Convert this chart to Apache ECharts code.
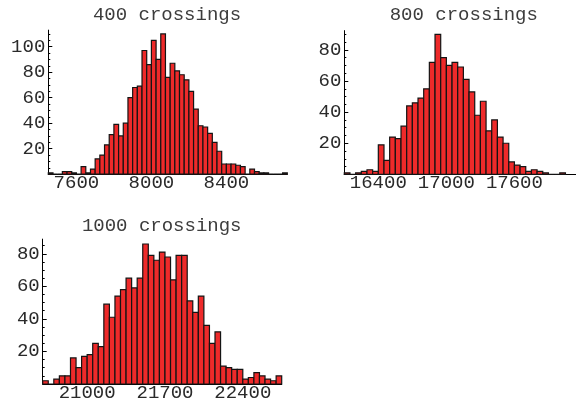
<!DOCTYPE html>
<html>
<head>
<meta charset="utf-8">
<script src="https://cdn.jsdelivr.net/npm/echarts@6/dist/echarts.min.js"></script>
<style>
  html, body { margin: 0; padding: 0; background: #ffffff; }
  #chart { width: 576px; height: 403px; }
</style>
</head>
<body>
<div id="chart"></div>
<script>
// Histogram counts, one value per bin
const counts400 = [1, 0, 0, 2, 2, 1, 0, 6, 1, 4, 12, 15, 23, 31, 39, 30, 40, 60, 68, 69,
  97, 86, 105, 90, 110, 76, 87, 81, 78, 74, 65, 51, 38, 37, 32, 25, 18, 8, 8, 8,
  7, 6, 0, 4, 2, 1, 1, 0, 0, 0, 1];
const counts800 = [1, 0, 1, 2, 3, 2, 19, 9, 24, 23, 31, 44, 46, 49, 55, 72, 90, 75, 70, 72,
  69, 61, 53, 38, 47, 28, 35, 24, 20, 8, 6, 5, 2, 3, 2, 1, 0, 0, 1];
const counts1000 = [2, 0, 3, 5, 5, 16, 10, 17, 18, 25, 23, 49, 41, 54, 58, 65, 59, 65, 86, 79,
  76, 81, 78, 64, 79, 79, 51, 44, 54, 36, 25, 32, 11, 10, 9, 9, 3, 4, 7, 5,
  3, 2, 5];

// Bin layout: first bin edge and bin width
const binStart400 = 7450, binWidth400 = 25;
const binStart800 = 16100, binWidth800 = 50;
const binStart1000 = 20600, binWidth1000 = 50;

// Tick labels
const xLabels400 = [7600, 8000, 8400];
const xLabels800 = [16400, 17000, 17600];
const xLabels1000 = [21000, 21700, 22400];
const yLabels400 = [20, 40, 60, 80, 100];
const yLabels800 = [20, 40, 60, 80];
const yLabels1000 = [20, 40, 60, 80];

const titles = ['400 crossings', '800 crossings', '1000 crossings'];

const FONT = "'Liberation Mono', 'DejaVu Sans Mono', monospace";
const TEXT_COLOR = '#2a2a2a';
const BAR_FILL = '#EE2A2A';
const BAR_EDGE = '#141414';

const panels = [
  { title: titles[0], counts: counts400, start: binStart400, width: binWidth400,
    xLabels: xLabels400, yLabels: yLabels400, xMax: 8725, yMax: 113,
    grid: { left: 48.3, top: 30.1, width: 239, height: 144.1 }, titleX: 167, titleY: 15 },
  { title: titles[1], counts: counts800, start: binStart800, width: binWidth800,
    xLabels: xLabels800, yLabels: yLabels800, xMax: 18143, yMax: 92.4,
    grid: { left: 344.3, top: 30.6, width: 239, height: 143.8 }, titleX: 463.8, titleY: 15 },
  { title: titles[2], counts: counts1000, start: binStart1000, width: binWidth1000,
    xLabels: xLabels1000, yLabels: yLabels1000, xMax: 22750, yMax: 89,
    grid: { left: 42.7, top: 239.1, width: 239, height: 144.9 }, titleX: 161.7, titleY: 226 }
];

const plain = v => String(v);

const grid = [], xAxis = [], yAxis = [], series = [], graphic = [];

panels.forEach((p, i) => {
  grid.push(Object.assign({ containLabel: false }, p.grid));

  xAxis.push({
    type: 'value', gridIndex: i, min: p.start, max: p.xMax,
    axisLine: { show: true, onZero: false, lineStyle: { color: '#000', width: 1 } },
    axisTick: { show: false },
    splitLine: { show: false },
    axisLabel: {
      customValues: p.xLabels, margin: -1, hideOverlap: false,
      showMinLabel: true, showMaxLabel: true, formatter: plain,
      fontFamily: FONT, fontSize: 19, color: TEXT_COLOR
    }
  });

  // major ticks + labels
  yAxis.push({
    type: 'value', gridIndex: i, min: 0, max: p.yMax, position: 'left',
    axisLine: { show: true, lineStyle: { color: '#000', width: 1 } },
    axisTick: { show: true, inside: true, length: 4, customValues: p.yLabels,
      lineStyle: { color: '#000' } },
    splitLine: { show: false },
    axisLabel: {
      customValues: p.yLabels, margin: 3, formatter: plain,
      fontFamily: FONT, fontSize: 19, color: TEXT_COLOR
    }
  });

  // minor ticks every 5 counts
  const minor = [];
  for (let v = 5; v < p.yMax; v += 5) if (v % 20 !== 0) minor.push(v);
  yAxis.push({
    type: 'value', gridIndex: i, min: 0, max: p.yMax, position: 'left',
    axisLine: { show: false },
    axisTick: { show: true, inside: true, length: 2, customValues: minor,
      lineStyle: { color: '#000' } },
    axisLabel: { show: false },
    splitLine: { show: false }
  });

  const data = p.counts.map((c, k) => [p.start + k * p.width, p.start + (k + 1) * p.width, c]);

  series.push({
    type: 'custom',
    xAxisIndex: i,
    yAxisIndex: i * 2,
    data: data,
    encode: { x: [0, 1], y: 2 },
    clip: false,
    renderItem: function (params, api) {
      const top = api.coord([api.value(0), api.value(2)]);
      const bottom = api.coord([api.value(1), 0]);
      return {
        type: 'rect',
        shape: { x: top[0], y: top[1], width: bottom[0] - top[0], height: bottom[1] - top[1] },
        style: { fill: BAR_FILL, stroke: BAR_EDGE, lineWidth: 1.2 }
      };
    }
  });

  graphic.push({
    type: 'text', x: p.titleX, y: p.titleY, silent: true,
    style: {
      text: p.title, fontFamily: FONT, fontSize: 19, fill: '#3c3c3c',
      align: 'center', verticalAlign: 'middle'
    }
  });
});

const chart = echarts.init(document.getElementById('chart'), null, { renderer: 'canvas' });
chart.setOption({
  animation: false,
  backgroundColor: '#ffffff',
  grid: grid,
  xAxis: xAxis,
  yAxis: yAxis,
  series: series,
  graphic: graphic
});
</script>
</body>
</html>
